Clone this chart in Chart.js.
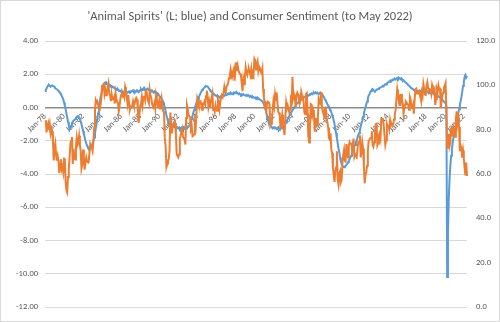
<!DOCTYPE html>
<html>
<head>
<meta charset="utf-8">
<script src="https://cdn.jsdelivr.net/npm/chart.js@4.4.1/dist/chart.umd.min.js"></script>
<style>
html,body{margin:0;padding:0;background:#ffffff;}
canvas{display:block;}
</style>
</head>
<body>
<canvas id="c" width="500" height="322"></canvas>
<script>
// ---- Data (monthly, Jan 1978 .. May 2022) ----
const firstYear = 1978;
const lastYear = 2022;
const lastMonthIndex = 4; // May 2022
const monthNames = ['Jan','Feb','Mar','Apr','May','Jun','Jul','Aug','Sep','Oct','Nov','Dec'];

// Tick labels shown on the category axis
const tickLabels = ['Jan-78','Jan-80','Jan-82','Jan-84','Jan-86','Jan-88','Jan-90','Jan-92','Jan-94','Jan-96','Jan-98',
  'Jan-00','Jan-02','Jan-04','Jan-06','Jan-08','Jan-10','Jan-12','Jan-14','Jan-16','Jan-18','Jan-20','Jan-22'];

// 'Animal Spirits' (left axis, blue)
const animalSpirits = [
  /*1978*/ 1.00,1.05,1.15,1.25,1.32,1.35,1.30,1.25,1.30,1.33,1.30,1.28,
  /*1979*/ 1.25,1.15,1.12,1.10,1.05,1.00,0.95,0.88,0.80,0.70,0.60,0.50,
  /*1980*/ 0.30,0.10,-0.10,-0.35,-0.60,-0.85,-1.05,-1.20,-1.25,-1.10,-0.95,-0.85,
  /*1981*/ -0.80,-0.75,-0.70,-0.62,-0.56,-0.52,-0.55,-0.60,-0.70,-0.85,-1.00,-1.20,
  /*1982*/ -1.40,-1.60,-1.80,-2.00,-2.15,-2.30,-2.40,-2.50,-2.55,-2.50,-2.40,-2.30,
  /*1983*/ -2.15,-2.00,-1.80,-1.55,-1.25,-0.95,-0.65,-0.35,0.00,0.30,0.60,0.80,
  /*1984*/ 1.05,1.25,1.40,1.48,1.50,1.42,1.45,1.38,1.40,1.32,1.35,1.28,
  /*1985*/ 1.30,1.25,1.20,1.22,1.15,1.10,1.12,1.05,1.08,1.00,1.02,0.98,
  /*1986*/ 0.95,0.98,0.90,0.93,0.96,0.90,0.86,0.92,0.90,0.94,0.97,0.93,
  /*1987*/ 0.98,0.95,1.00,1.04,0.96,1.00,0.92,0.96,1.04,1.00,0.92,0.96,
  /*1988*/ 1.04,1.10,1.02,1.06,1.14,1.06,1.10,1.02,1.06,1.14,1.10,1.05,
  /*1989*/ 1.00,1.05,0.97,1.02,0.96,0.92,0.96,0.88,0.92,0.84,0.86,0.78,
  /*1990*/ 0.72,0.66,0.60,0.52,0.45,0.32,0.16,0.00,-0.22,-0.45,-0.65,-0.82,
  /*1991*/ -0.90,-0.98,-1.05,-1.10,-1.14,-1.10,-1.15,-1.20,-1.16,-1.20,-1.25,-1.20,
  /*1992*/ -1.25,-1.20,-1.30,-1.24,-1.20,-1.26,-1.30,-1.22,-1.25,-1.20,-1.18,-1.22,
  /*1993*/ -1.20,-1.15,-1.10,-1.00,-0.85,-0.70,-0.50,-0.30,-0.15,0.00,0.15,0.30,
  /*1994*/ 0.40,0.50,0.60,0.75,0.85,0.95,1.05,1.10,1.15,1.20,1.25,1.30,
  /*1995*/ 1.30,1.26,1.20,1.12,1.05,1.00,0.95,0.90,0.85,0.80,0.76,0.72,
  /*1996*/ 0.70,0.65,0.70,0.65,0.60,0.65,0.70,0.65,0.70,0.75,0.70,0.75,
  /*1997*/ 0.80,0.75,0.80,0.85,0.80,0.85,0.90,0.85,0.80,0.85,0.90,0.85,
  /*1998*/ 0.90,0.85,0.90,0.85,0.80,0.85,0.80,0.75,0.80,0.75,0.80,0.75,
  /*1999*/ 0.75,0.70,0.75,0.70,0.75,0.70,0.65,0.70,0.65,0.60,0.65,0.60,
  /*2000*/ 0.60,0.55,0.60,0.55,0.60,0.55,0.50,0.50,0.45,0.40,0.35,0.30,
  /*2001*/ 0.20,0.05,-0.10,-0.30,-0.50,-0.70,-0.85,-0.95,-1.05,-1.15,-1.20,-1.25,
  /*2002*/ -1.20,-1.25,-1.20,-1.25,-1.30,-1.25,-1.20,-1.25,-1.30,-1.25,-1.20,-1.25,
  /*2003*/ -1.20,-1.15,-1.10,-1.00,-0.90,-0.80,-0.70,-0.60,-0.50,-0.40,-0.30,-0.25,
  /*2004*/ -0.15,-0.10,0.00,0.05,0.10,0.20,0.25,0.30,0.35,0.40,0.45,0.50,
  /*2005*/ 0.50,0.55,0.60,0.60,0.65,0.70,0.70,0.75,0.70,0.75,0.80,0.80,
  /*2006*/ 0.85,0.80,0.85,0.90,0.85,0.90,0.85,0.90,0.85,0.80,0.85,0.90,
  /*2007*/ 0.85,0.80,0.75,0.68,0.60,0.48,0.40,0.30,0.20,0.10,0.00,-0.05,
  /*2008*/ -0.15,-0.30,-0.45,-0.60,-0.80,-1.00,-1.30,-1.55,-1.85,-2.15,-2.45,-2.70,
  /*2009*/ -3.00,-3.25,-3.40,-3.50,-3.58,-3.60,-3.55,-3.50,-3.45,-3.40,-3.30,-3.20,
  /*2010*/ -3.10,-3.00,-2.90,-2.75,-2.65,-2.50,-2.35,-2.25,-2.10,-1.95,-1.80,-1.65,
  /*2011*/ -1.55,-1.35,-1.15,-0.95,-0.80,-0.55,-0.35,-0.15,0.00,0.20,0.35,0.55,
  /*2012*/ 0.72,0.80,0.90,1.00,1.08,1.12,1.05,1.00,0.98,1.02,1.06,1.10,
  /*2013*/ 1.12,1.15,1.18,1.20,1.22,1.26,1.30,1.28,1.35,1.40,1.38,1.45,
  /*2014*/ 1.50,1.52,1.58,1.55,1.62,1.60,1.68,1.65,1.70,1.72,1.68,1.75,
  /*2015*/ 1.78,1.72,1.80,1.75,1.70,1.76,1.68,1.62,1.65,1.58,1.52,1.50,
  /*2016*/ 1.45,1.40,1.35,1.30,1.25,1.20,1.18,1.12,1.10,1.05,1.02,1.00,
  /*2017*/ 0.98,1.00,0.95,0.98,1.02,0.96,1.00,1.05,0.98,1.02,0.96,0.98,
  /*2018*/ 0.95,0.92,0.96,0.90,0.88,0.92,0.86,0.90,0.85,0.88,0.82,0.85,
  /*2019*/ 0.80,0.76,0.72,0.70,0.66,0.62,0.60,0.55,0.50,0.45,0.40,0.35,
  /*2020*/ 0.30,0.25,0.05,-10.20,-7.50,-5.50,-4.30,-3.50,-2.90,-2.50,-2.10,-1.80,
  /*2021*/ -1.50,-1.25,-1.00,-0.80,-0.55,-0.35,-0.10,0.15,0.40,0.65,0.95,1.30,
  /*2022*/ 1.55,1.85,1.95,1.80,1.90
];

// Consumer Sentiment (right axis, orange)
const consumerSentiment = [
  /*1978*/ 83.7,84.3,78.8,81.6,82.9,80.0,82.4,78.4,80.4,79.3,75.0,66.1,
  /*1979*/ 72.1,73.9,68.4,66.0,68.1,65.8,60.4,64.5,66.7,62.1,63.3,61.0,
  /*1980*/ 67.0,66.9,56.5,52.7,51.7,58.7,62.3,67.4,73.7,75.0,76.7,64.5,
  /*1981*/ 71.4,66.9,66.5,72.4,76.3,73.1,74.1,77.2,73.1,70.3,62.5,64.3,
  /*1982*/ 71.0,66.5,62.0,65.5,67.5,65.7,65.4,65.4,69.3,73.4,72.1,71.9,
  /*1983*/ 70.4,74.6,80.8,89.1,93.3,92.2,92.8,90.9,89.9,89.3,91.1,94.2,
  /*1984*/ 100.1,97.4,101.0,96.1,98.1,95.5,96.6,99.1,100.9,96.3,95.7,92.9,
  /*1985*/ 96.0,93.7,93.7,94.6,91.8,96.5,94.0,92.4,92.1,88.4,90.9,93.9,
  /*1986*/ 95.6,95.9,95.1,96.2,94.8,99.3,97.7,94.9,91.9,95.6,91.4,89.1,
  /*1987*/ 90.4,90.2,90.8,92.8,91.1,91.5,93.7,94.4,93.6,89.3,83.1,86.8,
  /*1988*/ 90.8,91.6,94.6,91.2,94.8,94.7,93.4,97.4,97.3,94.1,93.0,91.9,
  /*1989*/ 97.9,95.4,94.3,91.5,90.7,90.6,92.0,89.6,95.8,93.9,90.9,90.5,
  /*1990*/ 93.0,89.5,91.3,93.9,90.6,88.3,88.2,76.4,72.8,63.9,66.0,65.5,
  /*1991*/ 66.8,70.4,87.7,81.8,78.3,82.1,82.9,82.0,83.0,78.3,69.1,68.2,
  /*1992*/ 67.5,68.8,76.0,77.2,79.2,80.4,76.6,76.1,75.6,73.3,85.3,91.0,
  /*1993*/ 89.3,86.6,85.9,85.6,80.3,81.5,77.0,77.3,77.9,82.7,81.2,88.2,
  /*1994*/ 94.3,93.2,91.5,92.6,92.8,91.2,89.0,91.7,91.5,92.7,91.6,95.1,
  /*1995*/ 97.6,95.1,90.3,92.5,89.8,92.7,94.4,96.2,88.9,90.2,88.2,91.0,
  /*1996*/ 89.3,88.5,93.7,92.7,89.4,92.4,94.7,95.3,94.7,96.5,99.2,96.9,
  /*1997*/ 97.4,99.7,100.0,101.4,103.2,104.5,107.1,104.4,106.0,105.6,107.2,102.1,
  /*1998*/ 106.6,110.4,106.5,108.7,106.5,105.6,105.2,104.4,100.9,97.4,102.7,100.5,
  /*1999*/ 103.9,108.1,105.7,104.6,106.8,107.3,106.0,104.5,107.2,103.2,107.2,105.4,
  /*2000*/ 112.0,111.3,107.1,109.2,110.7,106.4,108.3,107.3,106.8,105.8,107.6,98.4,
  /*2001*/ 94.7,90.6,91.5,88.4,92.0,92.6,92.4,91.5,81.8,82.7,83.9,88.8,
  /*2002*/ 93.0,90.7,95.7,93.0,96.9,92.4,88.1,87.6,86.1,80.6,84.2,86.7,
  /*2003*/ 82.4,79.9,77.6,86.0,92.1,89.7,90.9,89.3,87.7,89.6,93.7,92.6,
  /*2004*/ 103.8,94.4,95.8,94.2,90.2,95.6,96.7,95.9,94.2,91.7,92.8,97.1,
  /*2005*/ 95.5,94.1,92.6,87.7,86.9,96.0,96.5,89.1,76.9,74.2,81.6,91.5,
  /*2006*/ 91.2,86.7,88.9,87.4,79.1,84.9,84.7,82.0,85.4,93.6,92.1,91.7,
  /*2007*/ 96.9,91.3,88.4,87.1,88.3,85.3,90.4,83.4,83.4,80.9,76.1,75.5,
  /*2008*/ 78.4,70.8,69.5,62.6,59.8,56.4,61.2,63.0,70.3,57.6,55.3,60.1,
  /*2009*/ 61.2,56.3,57.3,65.1,68.7,70.8,66.0,65.7,73.5,70.6,67.4,72.5,
  /*2010*/ 74.4,73.6,73.6,72.2,73.6,76.0,67.8,68.9,68.2,67.7,71.6,74.5,
  /*2011*/ 74.2,77.5,67.5,69.8,74.3,71.5,63.7,55.8,59.5,60.8,63.7,69.9,
  /*2012*/ 75.0,75.3,76.2,76.4,79.3,73.2,72.3,74.3,78.3,82.6,82.7,72.9,
  /*2013*/ 73.8,77.6,78.6,76.4,84.5,84.1,85.1,82.1,77.5,73.2,75.1,82.5,
  /*2014*/ 81.2,81.6,80.0,84.1,81.9,82.5,81.8,82.5,84.6,86.9,88.8,93.6,
  /*2015*/ 98.1,95.4,93.0,95.9,90.7,96.1,93.1,91.9,87.2,90.0,91.3,92.6,
  /*2016*/ 92.0,91.7,91.0,89.0,94.7,93.5,90.0,89.8,91.2,87.2,93.8,98.2,
  /*2017*/ 98.5,96.3,96.9,97.0,97.1,95.1,93.4,96.8,95.1,100.7,98.5,95.9,
  /*2018*/ 95.7,99.7,101.4,98.8,98.0,98.2,97.9,96.2,100.1,98.6,97.5,98.3,
  /*2019*/ 91.2,93.8,98.4,97.2,100.0,98.2,98.4,89.8,93.2,95.5,96.8,99.3,
  /*2020*/ 99.8,101.0,89.1,71.8,72.3,78.1,72.5,74.1,80.4,81.8,76.9,80.7,
  /*2021*/ 79.0,76.8,84.9,88.3,82.9,85.5,81.2,70.3,72.8,71.7,67.4,70.6,
  /*2022*/ 67.2,62.8,59.4,65.2,59.1
];

// Category labels: one per month
const categories = [];
for (let y = firstYear; y <= lastYear; y++) {
  for (let m = 0; m < 12; m++) {
    if (y === lastYear && m > lastMonthIndex) break;
    categories.push(monthNames[m] + '-' + String(y % 100).padStart(2, '0'));
  }
}

const FONT = "Calibri, Carlito, Lato, 'Liberation Sans', sans-serif";
const TXT = '#595959';

const borderPlugin = {
  id: 'outerBorder',
  beforeDraw(chart) {
    const ctx = chart.ctx;
    ctx.save();
    ctx.fillStyle = '#ffffff';
    ctx.fillRect(0, 0, chart.width, chart.height);
    ctx.strokeStyle = '#d9d9d9';
    ctx.lineWidth = 1;
    ctx.strokeRect(0.5, 0.5, chart.width - 1, chart.height - 1);
    ctx.restore();
  }
};

new Chart(document.getElementById('c'), {
  type: 'line',
  data: {
    labels: categories,
    datasets: [
      {
        label: 'Animal Spirits',
        data: animalSpirits,
        yAxisID: 'y',
        borderColor: '#5B9BD5',
        borderWidth: 2,
        pointRadius: 0,
        tension: 0,
        order: 2
      },
      {
        label: 'Consumer Sentiment',
        data: consumerSentiment,
        yAxisID: 'y1',
        borderColor: '#ED7D31',
        borderWidth: 2,
        pointRadius: 0,
        tension: 0,
        order: 1
      }
    ]
  },
  options: {
    responsive: false,
    animation: false,
    devicePixelRatio: 1,
    layout: { padding: { left: 0, right: 0, top: 0, bottom: 15 } },
    plugins: {
      legend: { display: false },
      tooltip: { enabled: false },
      title: {
        display: true,
        text: "'Animal Spirits' (L; blue) and Consumer Sentiment (to May 2022)",
        color: TXT,
        font: { family: FONT, size: 12.5, weight: 'normal' },
        padding: { top: 9, bottom: 17 }
      }
    },
    scales: {
      x: {
        type: 'category',
        position: { y: 0 },
        offset: false,
        grid: { display: false, drawTicks: false },
        border: { display: false },
        ticks: {
          autoSkip: false,
          minRotation: 45,
          maxRotation: 45,
          padding: 4,
          color: TXT,
          font: { family: FONT, size: 8.5 },
          callback: function (v, i) {
            const l = categories[i];
            return tickLabels.includes(l) ? l : null;
          }
        }
      },
      y: {
        position: 'left',
        min: -12,
        max: 4,
        afterFit: s => { s.width = 45; },
        border: { display: false },
        grid: {
          drawTicks: false,
          color: c => (c.tick && c.tick.value === 0) ? '#8c8c8c' : '#d9d9d9',
          lineWidth: c => (c.tick && c.tick.value === 0) ? 1.5 : 1
        },
        ticks: {
          stepSize: 2,
          padding: 7,
          color: TXT,
          font: { family: FONT, size: 8.5 },
          callback: v => v.toFixed(2)
        }
      },
      y1: {
        position: 'right',
        min: 0,
        max: 120,
        afterFit: s => { s.width = 33; },
        border: { display: false },
        grid: { display: false, drawTicks: false },
        ticks: {
          stepSize: 20,
          padding: 9,
          color: TXT,
          font: { family: FONT, size: 8.5 },
          callback: v => v.toFixed(1)
        }
      }
    }
  },
  plugins: [borderPlugin]
});
</script>
</body>
</html>
